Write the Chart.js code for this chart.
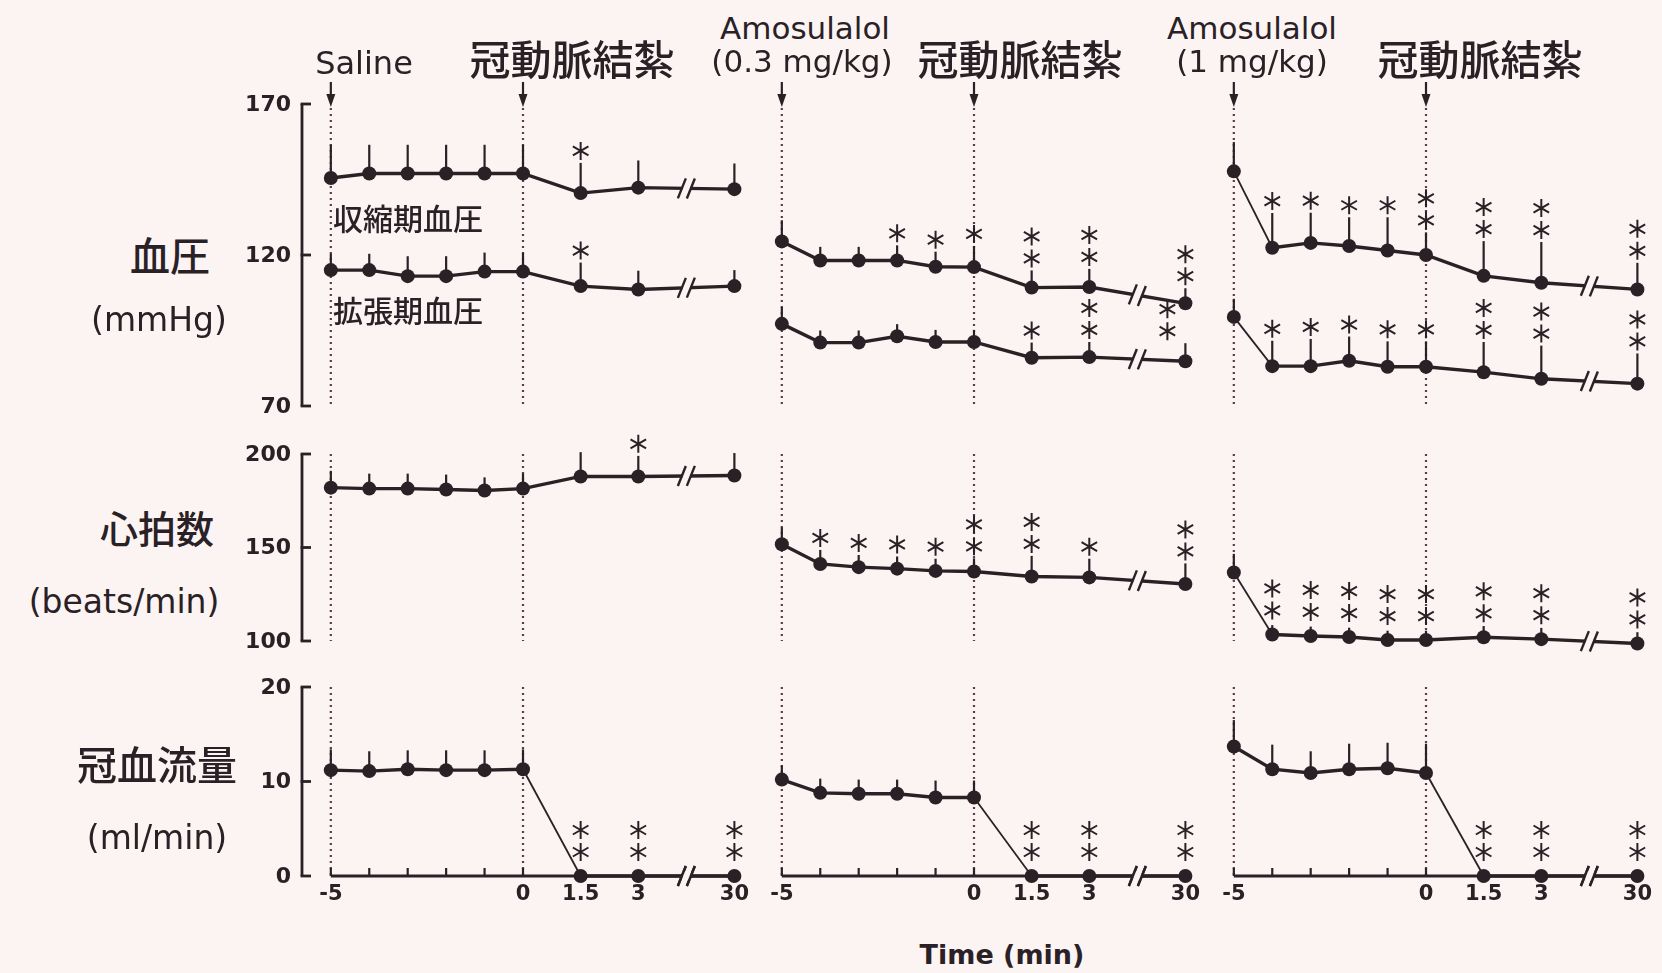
<!DOCTYPE html>
<html>
<head>
<meta charset="utf-8">
<script src="https://cdn.jsdelivr.net/npm/chart.js@4.4.1/dist/chart.umd.min.js"></script>
<style>
  body { margin: 0; background: #fbf4f2; }
  #fig { position: relative; width: 1662px; height: 973px; overflow: hidden; background: #fbf4f2;
         font-family: 'DejaVu Sans', sans-serif; color: #2a2126; }
  .lbl { position: absolute; transform: translate(-50%, -50%); white-space: nowrap; line-height: 1; }
  .jp { font-family: 'Noto Sans CJK JP', sans-serif; }
  canvas { position: absolute; }
</style>
</head>
<body>
<div id="fig"></div>
<script>
// time axis (min); 30 min sits after the axis break
const timePoints = [-5, -4, -3, -2, -1, 0, 1.5, 3, 30];
const timeTickValues = [-5, 0, 1.5, 3, 30];
const timeTickLabels = ['-5', '0', '1.5', '3', '30'];
const minorTickValues = [-5, -4, -3, -2, -1, 0];
const markerTimes = [-5, 0];

const bpTicks = [70, 120, 170];
const hrTicks = [100, 150, 200];
const cbfTicks = [0, 10, 20];

// 収縮期血圧 (mmHg) : Saline / Amosulalol 0.3 / Amosulalol 1
const sbpSaline = [145.5, 147, 147, 147, 147, 147, 140.5, 142.3, 141.8];
const sbpSalineSd = [11, 9.5, 9.5, 9.5, 9.5, 9.5, 10, 9, 8.5];
const sbpSalineSig = [0, 0, 0, 0, 0, 0, 1, 0, 0];
const sbpAmo03 = [124.5, 118.2, 118.2, 118.2, 116.1, 116, 109.2, 109.4, 104];
const sbpAmo03Sd = [7, 4.5, 4.5, 5, 5, 7, 5.7, 6, 5];
const sbpAmo03Sig = [0, 0, 0, 1, 1, 1, 2, 2, 2];
const sbpAmo1 = [147.7, 122.4, 124, 123, 121.5, 120, 113.1, 110.8, 108.6];
const sbpAmo1Sd = [9.7, 11.5, 10, 9.5, 11, 7.5, 11.5, 13.5, 8.8];
const sbpAmo1Sig = [0, 1, 1, 1, 1, 2, 2, 2, 2];

// 拡張期血圧 (mmHg)
const dbpSaline = [115, 115, 113, 113, 114.5, 114.5, 109.7, 108.6, 109.7];
const dbpSalineSd = [5.4, 5.4, 6.6, 6.6, 6.3, 6.2, 7.8, 6.2, 5.3];
const dbpSalineSig = [0, 0, 0, 0, 0, 0, 1, 0, 0];
const dbpAmo03 = [97.2, 91, 91, 93.1, 91.2, 91.2, 86, 86.2, 84.8];
const dbpAmo03Sd = [5.6, 4, 4, 4, 4, 4, 5, 5, 6];
const dbpAmo03Sig = [0, 0, 0, 0, 0, 0, 1, 2, 2];
const dbpAmo1 = [99.5, 83.2, 83.2, 85, 83, 83, 81.2, 79, 77.4];
const dbpAmo1Sd = [6, 8.4, 9, 8, 8.4, 8.4, 10, 11, 10];
const dbpAmo1Sig = [0, 1, 1, 1, 1, 1, 2, 2, 2];

// 心拍数 (beats/min)
const hrSaline = [182, 181.5, 181.5, 181, 180.5, 181.5, 188, 188, 188.5];
const hrSalineSd = [9, 8, 8, 8, 7, 8, 13, 11, 12];
const hrSalineSig = [0, 0, 0, 0, 0, 0, 0, 1, 0];
const hrAmo03 = [151.7, 141.2, 139.5, 138.7, 137.5, 137.2, 134.5, 134, 130.5];
const hrAmo03Sd = [9, 7.5, 6.5, 6.5, 6.5, 7, 11, 10, 11];
const hrAmo03Sig = [0, 1, 1, 1, 1, 2, 2, 1, 2];
const hrAmo1 = [136.6, 103.5, 102.7, 102.1, 100.5, 100.5, 102, 101, 98.7];
const hrAmo1Sd = [10, 5, 5, 5, 5, 5, 6, 6, 6];
const hrAmo1Sig = [0, 2, 2, 2, 2, 2, 2, 2, 2];

// 冠血流量 (ml/min)
const cbfSaline = [11.2, 11.1, 11.3, 11.2, 11.2, 11.3, 0, 0, 0];
const cbfSalineSd = [2.2, 2.1, 2, 2.1, 2.1, 2.1, 0, 0, 0];
const cbfSalineSig = [0, 0, 0, 0, 0, 0, 2, 2, 2];
const cbfAmo03 = [10.2, 8.8, 8.7, 8.7, 8.3, 8.3, 0, 0, 0];
const cbfAmo03Sd = [1.5, 1.5, 1.5, 1.5, 1.8, 1.8, 0, 0, 0];
const cbfAmo03Sig = [0, 0, 0, 0, 0, 0, 2, 2, 2];
const cbfAmo1 = [13.7, 11.3, 10.9, 11.3, 11.4, 10.9, 0, 0, 0];
const cbfAmo1Sd = [2.8, 2.6, 2.3, 2.7, 2.7, 3.1, 0, 0, 0];
const cbfAmo1Sig = [0, 0, 0, 0, 0, 0, 2, 2, 2];

const INK = '#2a2126';
const DOT = '#5e3a4e';
const BG = '#fbf4f2';

// axis layout: 30 min is drawn after a break
const BREAK_POS = 4.25, LATE_POS = 5.5;
const axisPos = t => (t > 3 ? LATE_POS : t);
const X_MIN = -5.75, X_MAX = 5.75, PLOT_W = 442;
const PAD = { left: 80, right: 24, top: 40, bottom: 50 };
const panelLeft = [302, 753, 1205];

const rows = [
  { top: 104, bottom: 406, min: 70, max: 170, ticks: bpTicks, arrows: true, xAxis: false,
    series: [
      [[sbpSaline, sbpSalineSd, sbpSalineSig], [sbpAmo03, sbpAmo03Sd, sbpAmo03Sig], [sbpAmo1, sbpAmo1Sd, sbpAmo1Sig]],
      [[dbpSaline, dbpSalineSd, dbpSalineSig], [dbpAmo03, dbpAmo03Sd, dbpAmo03Sig], [dbpAmo1, dbpAmo1Sd, dbpAmo1Sig]]
    ] },
  { top: 454, bottom: 641, min: 100, max: 200, ticks: hrTicks, arrows: false, xAxis: false,
    series: [
      [[hrSaline, hrSalineSd, hrSalineSig], [hrAmo03, hrAmo03Sd, hrAmo03Sig], [hrAmo1, hrAmo1Sd, hrAmo1Sig]]
    ] },
  { top: 687, bottom: 876, min: 0, max: 20, ticks: cbfTicks, arrows: false, xAxis: true,
    series: [
      [[cbfSaline, cbfSalineSd, cbfSalineSig], [cbfAmo03, cbfAmo03Sd, cbfAmo03Sig], [cbfAmo1, cbfAmo1Sd, cbfAmo1Sig]]
    ] }
];

function drawAsterisk(ctx, cx, cy) {
  const r = 9;
  ctx.beginPath();
  [90, 30, 150].forEach(deg => {
    const a = deg * Math.PI / 180;
    ctx.moveTo(cx - r * Math.cos(a), cy - r * Math.sin(a));
    ctx.lineTo(cx + r * Math.cos(a), cy + r * Math.sin(a));
  });
  ctx.stroke();
}

function drawBreak(ctx, x0, y0, x1, y1, bx) {
  const yAt = xx => y0 + (y1 - y0) * (xx - x0) / (x1 - x0);
  ctx.save();
  ctx.strokeStyle = BG; ctx.lineWidth = 9;
  ctx.beginPath(); ctx.moveTo(bx - 4, yAt(bx - 4)); ctx.lineTo(bx + 4, yAt(bx + 4)); ctx.stroke();
  ctx.strokeStyle = INK; ctx.lineWidth = 2.4;
  [bx - 4.5, bx + 4.5].forEach(xx => {
    const yy = yAt(xx);
    ctx.beginPath(); ctx.moveTo(xx - 4, yy + 10); ctx.lineTo(xx + 4, yy - 10); ctx.stroke();
  });
  ctx.restore();
}

const marksPlugin = {
  id: 'marks',
  beforeDatasetsDraw(chart) {
    const { ctx, chartArea: a, scales: { x, y } } = chart;
    const cfg = chart.options.plugins.marks;
    ctx.save();
    // dotted event lines
    ctx.strokeStyle = DOT; ctx.lineWidth = 2.2; ctx.setLineDash([2, 4]);
    markerTimes.forEach(t => {
      const px = x.getPixelForValue(axisPos(t));
      ctx.beginPath(); ctx.moveTo(px, a.top + (cfg.arrows ? 4 : 0)); ctx.lineTo(px, a.bottom); ctx.stroke();
    });
    ctx.setLineDash([]);
    // y axis (first panel only)
    if (cfg.yAxis) {
      ctx.strokeStyle = INK; ctx.lineWidth = 2.8;
      ctx.beginPath(); ctx.moveTo(a.left, y.getPixelForValue(cfg.ticks[0])); ctx.lineTo(a.left, y.getPixelForValue(cfg.ticks[cfg.ticks.length - 1])); ctx.stroke();
      ctx.fillStyle = INK; ctx.font = 'bold 22px "DejaVu Sans"'; ctx.textAlign = 'right'; ctx.textBaseline = 'middle';
      cfg.ticks.forEach(v => {
        const py = y.getPixelForValue(v);
        ctx.beginPath(); ctx.moveTo(a.left - 1.4, py); ctx.lineTo(a.left + 9, py); ctx.stroke();
        ctx.fillText(String(v), a.left - 11, py + 1);
      });
    }
    // x axis (bottom row)
    if (cfg.xAxis) {
      const py = y.getPixelForValue(0);
      const xs = x.getPixelForValue(axisPos(timeTickValues[0]));
      const xe = x.getPixelForValue(axisPos(timeTickValues[timeTickValues.length - 1]));
      ctx.strokeStyle = INK; ctx.lineWidth = 2.8;
      ctx.beginPath(); ctx.moveTo(xs, py); ctx.lineTo(xe, py); ctx.stroke();
      ctx.lineWidth = 2.2;
      minorTickValues.forEach(t => {
        const px = x.getPixelForValue(axisPos(t));
        ctx.beginPath(); ctx.moveTo(px, py); ctx.lineTo(px, py - 8); ctx.stroke();
      });
      drawBreak(ctx, xs, py, xe, py, x.getPixelForValue(BREAK_POS));
      ctx.fillStyle = INK; ctx.font = 'bold 21px "DejaVu Sans"'; ctx.textAlign = 'center'; ctx.textBaseline = 'top';
      timeTickValues.forEach((t, i) => ctx.fillText(timeTickLabels[i], x.getPixelForValue(axisPos(t)), py + 8));
    }
    // error bars (upper side only)
    ctx.strokeStyle = INK; ctx.lineWidth = 2.2;
    chart.data.datasets.forEach(ds => {
      ds.data.forEach((p, i) => {
        const sd = ds.sd[i];
        if (!sd) return;
        const px = x.getPixelForValue(p.x);
        ctx.beginPath(); ctx.moveTo(px, y.getPixelForValue(p.y)); ctx.lineTo(px, y.getPixelForValue(p.y + sd)); ctx.stroke();
      });
    });
    ctx.restore();
  },
  afterDatasetsDraw(chart) {
    const { ctx, chartArea: a, scales: { x, y } } = chart;
    const cfg = chart.options.plugins.marks;
    ctx.save();
    ctx.strokeStyle = INK; ctx.fillStyle = INK;
    // arrows
    if (cfg.arrows) {
      markerTimes.forEach(t => {
        const px = x.getPixelForValue(axisPos(t));
        ctx.lineWidth = 2.2;
        ctx.beginPath(); ctx.moveTo(px, a.top - 22); ctx.lineTo(px, a.top - 4); ctx.stroke();
        ctx.beginPath(); ctx.moveTo(px - 4.5, a.top - 10); ctx.lineTo(px + 4.5, a.top - 10); ctx.lineTo(px, a.top + 3); ctx.closePath(); ctx.fill();
      });
    }
    const all = chart.data.datasets;
    all.forEach((ds, di) => {
      const pts = ds.data;
      const n = pts.length;
      // axis break on the line
      drawBreak(ctx, x.getPixelForValue(pts[n - 2].x), y.getPixelForValue(pts[n - 2].y),
        x.getPixelForValue(pts[n - 1].x), y.getPixelForValue(pts[n - 1].y), x.getPixelForValue(BREAK_POS));
      // significance marks
      ctx.lineWidth = 2;
      pts.forEach((p, i) => {
        const k = ds.sig[i];
        if (!k) return;
        let px = x.getPixelForValue(p.x);
        const top = Math.min(y.getPixelForValue(p.y + (ds.sd[i] || 0)), y.getPixelForValue(p.y) - 12);
        const highest = top - 12 - (k - 1) * 22;
        // move the stack aside when it would run into the upper curve's point
        const clash = all.some((o, oi) => oi !== di && Math.abs(y.getPixelForValue(o.data[i].y) - highest) < 14);
        if (clash) px -= 18;
        for (let j = 0; j < k; j++) drawAsterisk(ctx, px, top - 12 - j * 22);
      });
    });
    ctx.restore();
  }
};

const fig = document.getElementById('fig');

rows.forEach((row, r) => {
  panelLeft.forEach((left, p) => {
    const h = row.bottom - row.top;
    const canvas = document.createElement('canvas');
    canvas.width = PAD.left + PLOT_W + PAD.right;
    canvas.height = PAD.top + h + PAD.bottom;
    canvas.style.left = (left - PAD.left) + 'px';
    canvas.style.top = (row.top - PAD.top) + 'px';
    fig.appendChild(canvas);

    const datasets = row.series.map(s => {
      const [vals, sd, sig] = s[p];
      return {
        data: timePoints.map((t, i) => ({ x: axisPos(t), y: vals[i] })),
        sd, sig,
        borderColor: INK, borderWidth: 3.4, pointRadius: 7, pointHoverRadius: 7,
        pointBackgroundColor: INK, pointBorderWidth: 0, tension: 0, clip: false,
        segment: {
          borderWidth: c => Math.abs(c.p1.y - c.p0.y) > Math.abs(c.p1.x - c.p0.x) ? 1.8 : 3.4
        }
      };
    });

    new Chart(canvas.getContext('2d'), {
      type: 'line',
      data: { datasets },
      options: {
        responsive: false, animation: false, events: [],
        layout: { padding: PAD },
        plugins: {
          legend: { display: false }, tooltip: { enabled: false },
          marks: { yAxis: p === 0, xAxis: row.xAxis, arrows: row.arrows, ticks: row.ticks }
        },
        scales: {
          x: { type: 'linear', min: X_MIN, max: X_MAX, display: false },
          y: { type: 'linear', min: row.min, max: row.max, display: false }
        }
      },
      plugins: [marksPlugin]
    });
  });
});

// text labels
const labels = [
  ['Saline', 364, 63, '', '500 32px'],
  ['冠動脈結紮', 572, 57, 'jp', '500 41px'],
  ['Amosulalol', 805, 28, '', '500 31px'],
  ['(0.3 mg/kg)', 802, 61, '', '500 31px'],
  ['冠動脈結紮', 1020, 57, 'jp', '500 41px'],
  ['Amosulalol', 1252, 28, '', '500 31px'],
  ['(1 mg/kg)', 1252, 61, '', '500 31px'],
  ['冠動脈結紮', 1480, 57, 'jp', '500 41px'],
  ['血圧', 170, 254, 'jp', '500 40px'],
  ['(mmHg)', 159, 319, '', '500 33px'],
  ['心拍数', 157, 527, 'jp', '500 38px'],
  ['(beats/min)', 124, 601, '', '500 33px'],
  ['冠血流量', 157, 763, 'jp', '500 40px'],
  ['(ml/min)', 157, 837, '', '500 33px'],
  ['収縮期血圧', 408, 217, 'jp', '500 30px'],
  ['拡張期血圧', 408, 309, 'jp', '500 30px'],
  ['Time (min)', 1002, 954, '', 'bold 27px']
];
labels.forEach(([text, cx, cy, cls, font]) => {
  const d = document.createElement('div');
  d.className = 'lbl ' + cls;
  d.textContent = text;
  d.style.left = cx + 'px';
  d.style.top = cy + 'px';
  const [weight, size] = font.split(' ');
  d.style.fontWeight = weight;
  d.style.fontSize = size;
  fig.appendChild(d);
});
</script>
</body>
</html>
